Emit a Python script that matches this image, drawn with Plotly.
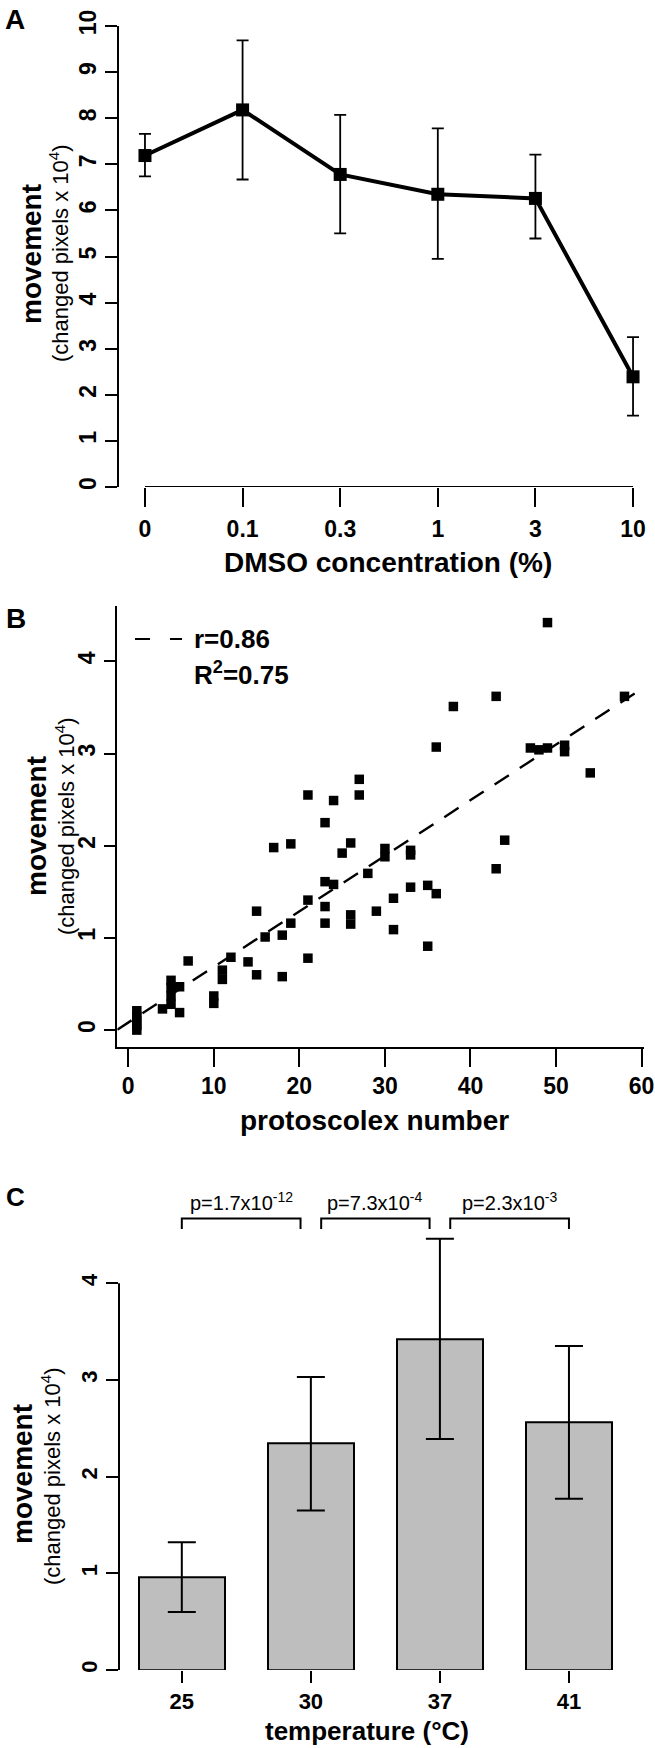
import numpy as np
import plotly.graph_objects as go

W, H = 655, 1748
FONT = "Liberation Sans, Arial, sans-serif"

# ---------------- Panel A data ----------------
dmso_labels = ["0", "0.1", "0.3", "1", "3", "10"]
dmso_mean = [7.19, 8.18, 6.78, 6.35, 6.26, 2.39]
dmso_upper = [7.66, 9.69, 8.07, 7.78, 7.21, 3.25]
dmso_lower = [6.74, 6.67, 5.50, 4.95, 5.39, 1.55]

# ---------------- Panel B data ----------------
proto_n = [1, 1, 1, 1, 1, 4, 5, 5, 5, 5, 6, 6, 7, 10, 10, 11, 11, 12, 14, 15, 15,
           16, 17, 18, 18, 19, 19, 21, 21, 21, 23, 23, 23, 23, 24, 24, 25, 26, 26, 26,
           27, 27, 28, 29, 30, 30, 31, 31, 33, 33, 33, 35, 35, 36, 36, 38, 43, 43, 44,
           47, 48, 49, 49, 51, 51, 54, 58]
proto_mv = [0.00, 0.05, 0.10, 0.15, 0.21, 0.23, 0.28, 0.37, 0.46, 0.54, 0.47, 0.19, 0.75,
            0.29, 0.37, 0.55, 0.65, 0.79, 0.74, 1.29, 0.60, 1.01, 1.98, 1.03, 0.58, 2.02,
            1.16, 2.55, 1.41, 0.78, 2.25, 1.61, 1.34, 1.16, 2.49, 1.58, 1.92, 2.03, 1.25,
            1.15, 2.72, 2.55, 1.70, 1.29, 1.97, 1.88, 1.43, 1.09, 1.95, 1.90, 1.55, 1.57,
            0.91, 3.07, 1.48, 3.51, 3.62, 1.75, 2.06, 3.06, 3.04, 4.42, 3.06, 3.09, 3.02,
            2.79, 3.62]
r_text = "r=0.86"
r2_text = "R<sup>2</sup>=0.75"

# ---------------- Panel C data ----------------
temp_labels = ["25", "30", "37", "41"]
temp_mean = [0.96, 2.34, 3.42, 2.56]
temp_upper = [1.32, 3.03, 4.46, 3.35]
temp_lower = [0.60, 1.65, 2.39, 1.77]
p_labels = ["p=1.7x10<sup>-12</sup>", "p=7.3x10<sup>-4</sup>", "p=2.3x10<sup>-3</sup>"]

ylab_main = "movement"
ylab_sub = "(changed pixels x 10<sup>4</sup>)"


def px(s):
    return s / W


def py(s):
    return 1 - s / H


def xdom(a, b):
    return [max(0, px(a)), min(1, px(b))]


def ydom(top, bottom):
    return [max(0, py(bottom)), min(1, py(top))]


def ann(text, xs, ys, size, bold=False, angle=0, xanchor="center"):
    return dict(text=text, x=px(xs), y=py(ys), xref="paper", yref="paper",
                showarrow=False, textangle=angle, xanchor=xanchor, yanchor="middle",
                font=dict(size=size, family=FONT, color="black",
                          weight="bold" if bold else "normal"))


fig = go.Figure()

# ---------- Panel A ----------
xa = list(range(len(dmso_labels)))
fig.add_trace(go.Scatter(
    x=xa, y=dmso_mean, mode="lines+markers", xaxis="x", yaxis="y",
    line=dict(color="black", width=4),
    marker=dict(symbol="square", size=13, color="black"),
    error_y=dict(type="data", symmetric=False,
                 array=[u - m for u, m in zip(dmso_upper, dmso_mean)],
                 arrayminus=[m - l for m, l in zip(dmso_mean, dmso_lower)],
                 color="black", thickness=1.8, width=6),
    cliponaxis=False, showlegend=False))

# ---------- Panel B ----------
fig.add_trace(go.Scatter(
    x=proto_n, y=proto_mv, mode="markers", xaxis="x2", yaxis="y2",
    marker=dict(symbol="square", size=9.5, color="black"),
    cliponaxis=False, showlegend=False))
slope, intercept = np.polyfit(proto_n, proto_mv, 1)
xr_b = [-1.28, 60.28]
fig.add_trace(go.Scatter(
    x=xr_b, y=[intercept + slope * v for v in xr_b], mode="lines",
    xaxis="x2", yaxis="y2", line=dict(color="black", width=2.4, dash="17px,13px"),
    showlegend=False))

# ---------- Panel C ----------
xc = [1 + 1.5 * i for i in range(len(temp_labels))]
fig.add_trace(go.Bar(
    x=xc, y=temp_mean, width=1, xaxis="x3", yaxis="y3",
    marker=dict(color="#BEBEBE", line=dict(color="black", width=2)),
    error_y=dict(type="data", symmetric=False,
                 array=[u - m for u, m in zip(temp_upper, temp_mean)],
                 arrayminus=[m - l for m, l in zip(temp_mean, temp_lower)],
                 color="black", thickness=2, width=14),
    showlegend=False))

tickfont = dict(size=23, family=FONT, color="black", weight="bold")
common = dict(ticks="outside", tickwidth=2, tickcolor="black", tickfont=tickfont,
              showgrid=False, zeroline=False, fixedrange=True, automargin=False)
common_c = dict(common, tickfont=dict(tickfont, size=22))

yr_c = [0, 4.95]
c_top = 1670 - (yr_c[1] - yr_c[0]) * 96.7

xa_rng = [-0.266, 5.225]
xc_rng = [0.27, 6.5]

fig.update_layout(
    width=W, height=H, margin=dict(l=0, r=0, t=0, b=0, pad=0, autoexpand=False),
    paper_bgcolor="white", plot_bgcolor="white", showlegend=False,
    bargap=0,
    xaxis=dict(domain=xdom(119, 655), range=xa_rng, tickvals=xa,
               ticktext=dmso_labels, ticklen=19, showline=False,
               ticklabelstandoff=2, anchor="y", **common),
    yaxis=dict(domain=ydom(26, 487), range=[0, 10], tickvals=list(range(0, 11)),
               ticklen=12, showline=True, linecolor="black", linewidth=2,
               tickangle=-90, anchor="x", **common),
    xaxis2=dict(domain=xdom(117.3, 644), range=xr_b, tickvals=list(range(0, 61, 10)),
                ticklen=18, showline=True, linecolor="black", linewidth=2,
                anchor="y2", **common),
    yaxis2=dict(domain=ydom(606, 1046.7), range=[-0.18, 4.6], tickvals=[0, 1, 2, 3, 4],
                ticklen=11, showline=True, linecolor="black", linewidth=2,
                tickangle=-90, anchor="x2", **common),
    xaxis3=dict(domain=xdom(119, 655), range=xc_rng, tickvals=xc,
                ticktext=temp_labels, ticklen=12, showline=False,
                ticklabelstandoff=0, anchor="y3", **common_c),
    yaxis3=dict(domain=ydom(c_top, 1670), range=yr_c, tickvals=[0, 1, 2, 3, 4],
                ticklen=12, showline=False, tickangle=-90, anchor="x3", **common_c),
)

shapes = []
# Panel A x-axis line (spans first to last tick)
shapes.append(dict(type="line", xref="x", yref="y", x0=xa[0], x1=xa[-1], y0=0, y1=0,
                   line=dict(color="black", width=2)))
# Panel C y-axis line (spans 0 to 4)
shapes.append(dict(type="line", xref="x3 domain", yref="y3", x0=0, x1=0, y0=0, y1=4,
                   line=dict(color="black", width=2)))
# Panel C brackets
br_y = max(temp_upper) + 0.21
br_h = 0.11
inset = 0.12
for i in range(len(xc) - 1):
    x0 = xc[i] + (inset if i > 0 else 0)
    x1 = xc[i + 1] - (inset if i < len(xc) - 2 else 0)
    shapes.append(dict(type="path", xref="x3", yref="y3",
                       path=f"M{x0},{br_y - br_h} L{x0},{br_y} L{x1},{br_y} L{x1},{br_y - br_h}",
                       line=dict(color="black", width=2)))
# Panel B legend line sample
shapes.append(dict(type="line", xref="paper", yref="paper", x0=px(135), x1=px(182),
                   y0=py(639), y1=py(639),
                   line=dict(color="black", width=2.2, dash="15px,20px")))
fig.update_layout(shapes=shapes)

annotations = [
    ann("A", 15, 19, 28, bold=True),
    ann(ylab_main, 31, 254, 28, bold=True, angle=-90),
    ann(ylab_sub, 59, 253, 22, angle=-90),
    ann("DMSO concentration (%)", 388, 562, 28, bold=True),

    ann("B", 16, 618, 28, bold=True),
    ann(ylab_main, 36, 826, 28, bold=True, angle=-90),
    ann(ylab_sub, 65, 826, 22, angle=-90),
    ann("protoscolex number", 375, 1120, 28, bold=True),
    ann(r_text, 192, 639, 26, bold=True, xanchor="left"),
    ann(r2_text, 192, 673, 26, bold=True, xanchor="left"),

    ann("C", 15, 1197, 26, bold=True),
    ann(ylab_main, 22, 1474, 28, bold=True, angle=-90),
    ann(ylab_sub, 51, 1476, 22, angle=-90),
    ann("temperature (°C)", 367, 1731, 26, bold=True),
]
for i, lab in enumerate(p_labels):
    x0 = xc[i] + (inset if i > 0 else 0)
    x1 = xc[i + 1] - (inset if i < len(xc) - 2 else 0)
    annotations.append(dict(text=lab, x=(x0 + x1) / 2, y=br_y + 0.03, xref="x3", yref="y3",
                            showarrow=False, xanchor="center", yanchor="bottom",
                            font=dict(size=20, family=FONT, color="black")))
fig.update_layout(annotations=annotations)

# remove the browser's default page margin so the figure fills the window exactly
fig.write_html("out.html", config={"displayModeBar": False},
               post_script="document.body.style.margin='0px';")
